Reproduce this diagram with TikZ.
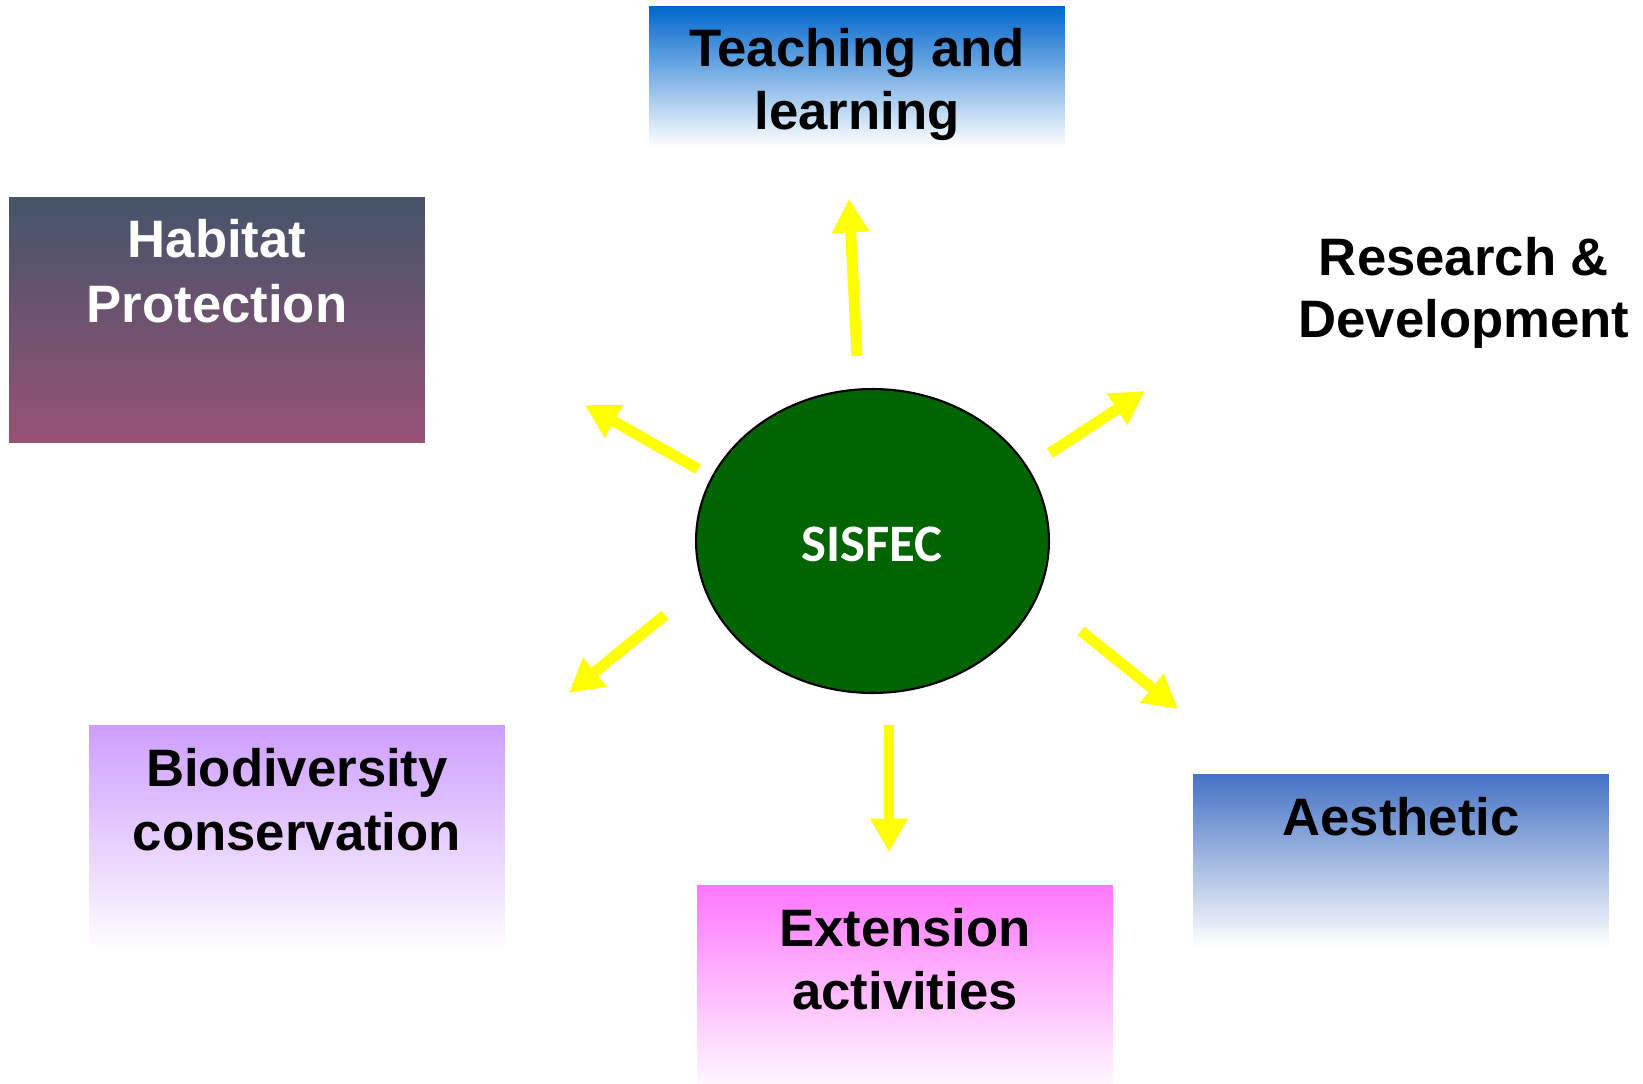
\documentclass[tikz,border=0pt]{standalone}
\usepackage{fontspec}
\setmainfont{Liberation Sans}
\newfontfamily\calibfont{Carlito}
\usetikzlibrary{shapes.geometric,arrows.meta}
\definecolor{teachtop}{RGB}{0,102,204}
\definecolor{habtop}{RGB}{68,84,106}
\definecolor{habmid}{RGB}{138,83,113}
\definecolor{habbot}{RGB}{152,82,116}
\definecolor{biotop}{RGB}{206,158,255}
\definecolor{exttop}{RGB}{255,119,255}
\definecolor{aesttop}{RGB}{68,114,196}
\definecolor{sisgreen}{RGB}{0,100,0}
\definecolor{arrowyellow}{RGB}{255,255,0}
\begin{document}
\begin{tikzpicture}[x=0.02cm,y=-0.02cm,
  box/.style={rectangle, draw=none, minimum width=8.32cm, inner sep=0pt},
  lbl/.style={anchor=base, inner sep=0pt, font=\bfseries\fontsize{30}{36}\selectfont},
  yarrow/.style={draw=arrowyellow, line width=6.2pt, -{Triangle[width=20pt,length=19pt]}}]
\useasboundingbox (0,0) rectangle (1643,1084);
\fill[white] (0,0) rectangle (1643,1084);

% boxes
\node[box, minimum height=2.82cm, top color=teachtop, bottom color=white] (teach) at (857,76.5) {};
\node[box, minimum height=4.92cm, top color=habtop, middle color=habmid, bottom color=habbot] (habitat) at (217,320) {};
\node[box, minimum height=4.56cm, top color=biotop, bottom color=white] (bio) at (297,839) {};
\node[box, minimum height=3.98cm, top color=exttop, bottom color=white!94!exttop] (ext) at (905,984.5) {};
\node[box, minimum height=3.46cm, top color=aesttop, bottom color=white] (aest) at (1401,860.5) {};

% texts
\node[lbl] (teach1) at (857,67) {Teaching and};
\node[lbl] (teach2) at (857,130) {learning};
\node[lbl, text=white] (hab1) at (217,258) {Habitat};
\node[lbl, text=white] (hab2) at (217,323) {Protection};
\node[lbl] (bio1) at (297,786) {Biodiversity};
\node[lbl] (bio2) at (297,850) {conservation};
\node[lbl] (ext1) at (905,946) {Extension};
\node[lbl] (ext2) at (905,1009) {activities};
\node[lbl] (aest1) at (1401,835) {Aesthetic};
\node[lbl] (res1) at (1464,276) {Research \&};
\node[lbl] (res2) at (1464,338) {Development};

% centre
\node[ellipse, draw=black, line width=1.2pt, fill=sisgreen, minimum width=7.06cm, minimum height=6.08cm, inner sep=0pt] (sisfec) at (872.5,541) {};
\node[anchor=base, inner sep=0pt, text=white, font=\calibfont\bfseries\fontsize{30}{36}\selectfont] (sistext) at (872,561) {SISFEC};

% arrows
\coordinate (tU) at (857,356);  \coordinate (hU) at (849,199);
\coordinate (tUL) at (698,469); \coordinate (hUL) at (585,405);
\coordinate (tUR) at (1050,453); \coordinate (hUR) at (1145,391);
\coordinate (tLL) at (665,615); \coordinate (hLL) at (569,693);
\coordinate (tLR) at (1081,631); \coordinate (hLR) at (1178,709);
\coordinate (tD) at (889,725);  \coordinate (hD) at (889,852);
\draw[yarrow] (tU) -- (hU);
\draw[yarrow] (tUL) -- (hUL);
\draw[yarrow] (tUR) -- (hUR);
\draw[yarrow] (tLL) -- (hLL);
\draw[yarrow] (tLR) -- (hLR);
\draw[yarrow] (tD) -- (hD);
\end{tikzpicture}
\end{document}
